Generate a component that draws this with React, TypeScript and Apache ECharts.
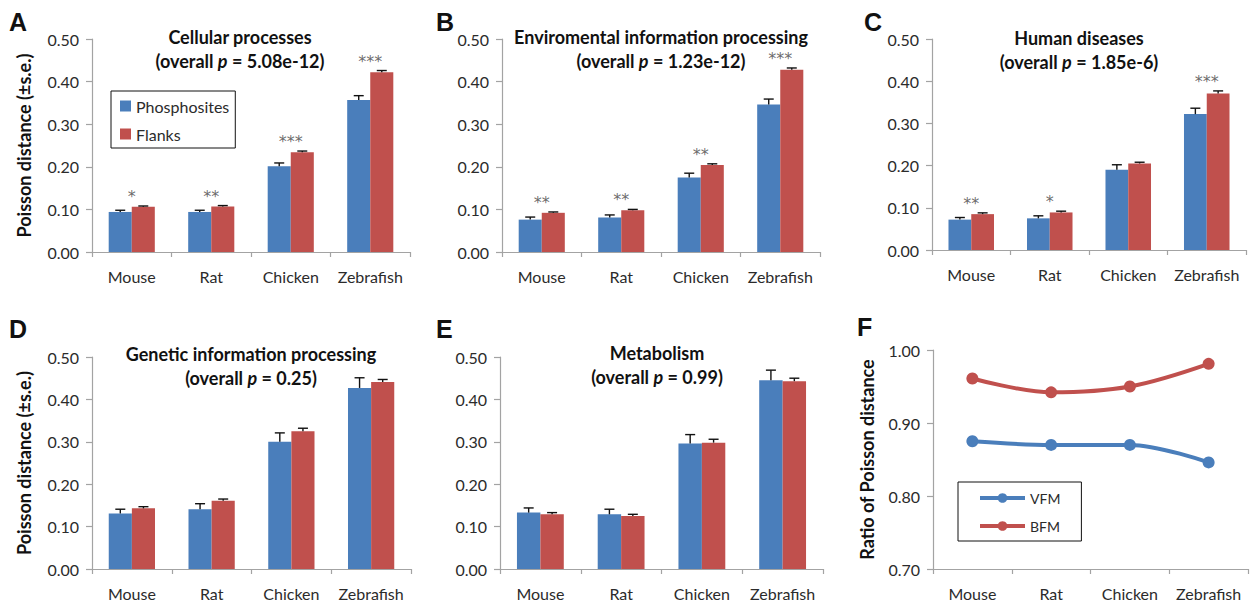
import React, { useEffect, useRef } from 'react';
import * as echarts from 'echarts';

// ---------- data ----------
const categories = ['Mouse', 'Rat', 'Chicken', 'Zebrafish'];

const panelTitles = [
  'Cellular processes',
  'Enviromental information processing',
  'Human diseases',
  'Genetic information processing',
  'Metabolism',
];
const overallP = ['5.08e-12', '1.23e-12', '1.85e-6', '0.25', '0.99'];

// Cellular processes
const cellPhospho = [0.094, 0.094, 0.201, 0.357];
const cellPhosphoSE = [0.004, 0.004, 0.008, 0.01];
const cellFlanks = [0.106, 0.107, 0.234, 0.422];
const cellFlanksSE = [0.002, 0.002, 0.003, 0.004];
const cellStars = ['*', '**', '***', '***'];

// Enviromental information processing
const envPhospho = [0.076, 0.081, 0.175, 0.346];
const envPhosphoSE = [0.006, 0.006, 0.01, 0.013];
const envFlanks = [0.092, 0.098, 0.204, 0.428];
const envFlanksSE = [0.002, 0.002, 0.003, 0.004];
const envStars = ['**', '**', '**', '***'];

// Human diseases
const humPhospho = [0.072, 0.075, 0.19, 0.322];
const humPhosphoSE = [0.005, 0.006, 0.012, 0.014];
const humFlanks = [0.085, 0.089, 0.205, 0.371];
const humFlanksSE = [0.003, 0.003, 0.003, 0.006];
const humStars = ['**', '*', '', '***'];

// Genetic information processing
const genPhospho = [0.131, 0.141, 0.3, 0.427];
const genPhosphoSE = [0.01, 0.013, 0.021, 0.024];
const genFlanks = [0.143, 0.161, 0.325, 0.441];
const genFlanksSE = [0.004, 0.004, 0.007, 0.006];
const genStars = ['', '', '', ''];

// Metabolism
const metPhospho = [0.133, 0.129, 0.296, 0.445];
const metPhosphoSE = [0.011, 0.012, 0.021, 0.024];
const metFlanks = [0.129, 0.125, 0.298, 0.443];
const metFlanksSE = [0.004, 0.004, 0.008, 0.007];
const metStars = ['', '', '', ''];

// Ratio panel
const vfmRatio = [0.875, 0.87, 0.87, 0.846];
const bfmRatio = [0.961, 0.942, 0.95, 0.981];

const barTicks = { min: 0, max: 0.5, interval: 0.1 };
const ratioTicks = { min: 0.7, max: 1.0, interval: 0.1 };

// ---------- style / layout ----------
const BLUE = '#4A7EBB';
const RED = '#C0504D';
const AXIS = '#A3A3A3';
const TEXT = '#2b2b2b';
const STAR = '#444444';
const FONT = 'Lato';
const GAP = 0.42;

const grids = [
  { left: 92, top: 39, width: 318, height: 213 },
  { left: 502, top: 39, width: 318, height: 213 },
  { left: 932, top: 39, width: 314, height: 211 },
  { left: 92, top: 357, width: 319, height: 212 },
  { left: 500, top: 357, width: 323, height: 212 },
  { left: 933, top: 350, width: 315, height: 219 },
];
const titlePos = [
  { x: 240, y: 25 },
  { x: 661, y: 25 },
  { x: 1079, y: 26 },
  { x: 251, y: 342 },
  { x: 657, y: 341 },
];
const letters = [
  { t: 'A', x: 9, y: 9 },
  { t: 'B', x: 436, y: 9 },
  { t: 'C', x: 864, y: 9 },
  { t: 'D', x: 9, y: 316 },
  { t: 'E', x: 436, y: 316 },
  { t: 'F', x: 857, y: 314 },
];

const barPanels = [
  { p: cellPhospho, pse: cellPhosphoSE, f: cellFlanks, fse: cellFlanksSE, stars: cellStars },
  { p: envPhospho, pse: envPhosphoSE, f: envFlanks, fse: envFlanksSE, stars: envStars },
  { p: humPhospho, pse: humPhosphoSE, f: humFlanks, fse: humFlanksSE, stars: humStars },
  { p: genPhospho, pse: genPhosphoSE, f: genFlanks, fse: genFlanksSE, stars: genStars },
  { p: metPhospho, pse: metPhosphoSE, f: metFlanks, fse: metFlanksSE, stars: metStars },
];

function errRender(sign: number) {
  return (params: any, api: any) => {
    const i = api.value(0);
    const v = api.value(1);
    const top = api.value(2);
    const band = api.size([1, 0])[0];
    const bw = (band * (1 - GAP)) / 2;
    const base = api.coord([i, v]);
    const tp = api.coord([i, top]);
    const x = base[0] + (sign * bw) / 2;
    const cap = 5;
    const style = { stroke: '#111', lineWidth: 1.4 };
    return {
      type: 'group',
      children: [
        { type: 'line', shape: { x1: x, y1: base[1], x2: x, y2: tp[1] }, style },
        { type: 'line', shape: { x1: x - cap, y1: tp[1], x2: x + cap, y2: tp[1] }, style },
      ],
    };
  };
}

function buildOption() {
  const xAxis: any[] = [];
  const yAxis: any[] = [];
  const series: any[] = [];
  const title: any[] = [];

  grids.forEach((g, k) => {
    xAxis.push({
      type: 'category',
      gridIndex: k,
      data: categories,
      axisLine: { lineStyle: { color: AXIS, width: 1.2 } },
      axisTick: { show: true, length: 5, lineStyle: { color: AXIS, width: 1.2 } },
      axisLabel: { fontFamily: FONT, fontSize: 16, color: TEXT, margin: 16, interval: 0 },
      splitLine: { show: false },
    });
    const isRatio = k === 5;
    const ticks = isRatio ? ratioTicks : barTicks;
    const showName = k === 0 || k === 3 || k === 5;
    yAxis.push({
      type: 'value',
      gridIndex: k,
      min: ticks.min,
      max: ticks.max,
      interval: ticks.interval,
      axisLine: { show: true, lineStyle: { color: AXIS, width: 1.2 } },
      axisTick: { show: true, length: 6, lineStyle: { color: AXIS, width: 1.2 } },
      splitLine: { show: false },
      axisLabel: {
        fontFamily: FONT,
        fontSize: 16,
        color: TEXT,
        margin: 13,
        formatter: (v: number) => v.toFixed(2),
      },
      name: showName ? (isRatio ? 'Ratio of Poisson distance' : 'Poisson distance (±s.e.)') : '',
      nameLocation: 'middle',
      nameGap: isRatio ? 57 : 59,
      nameTextStyle: { fontFamily: FONT, fontSize: 18, fontWeight: 'bold', color: '#111' },
    });
  });

  barPanels.forEach((bp, k) => {
    series.push({
      type: 'bar',
      name: 'Phosphosites',
      xAxisIndex: k,
      yAxisIndex: k,
      data: bp.p,
      barGap: '0%',
      barCategoryGap: GAP * 100 + '%',
      itemStyle: { color: BLUE },
      z: 2,
    });
    series.push({
      type: 'bar',
      name: 'Flanks',
      xAxisIndex: k,
      yAxisIndex: k,
      data: bp.f,
      barGap: '0%',
      barCategoryGap: GAP * 100 + '%',
      itemStyle: { color: RED },
      z: 2,
    });
    series.push({
      type: 'custom',
      xAxisIndex: k,
      yAxisIndex: k,
      data: bp.p.map((v, i) => [i, v, v + bp.pse[i]]),
      renderItem: errRender(-1),
      z: 3,
      silent: true,
    });
    series.push({
      type: 'custom',
      xAxisIndex: k,
      yAxisIndex: k,
      data: bp.f.map((v, i) => [i, v, v + bp.fse[i]]),
      renderItem: errRender(1),
      z: 3,
      silent: true,
    });
    const starData = categories
      .map((c, i) => ({
        value: [i, Math.max(bp.p[i] + bp.pse[i], bp.f[i] + bp.fse[i])],
        label: { formatter: bp.stars[i], color: STAR },
        s: bp.stars[i],
      }))
      .filter((d) => d.s !== '')
      .map(({ value, label }) => ({ value, label }));
    if (starData.length) {
      series.push({
        type: 'scatter',
        xAxisIndex: k,
        yAxisIndex: k,
        data: starData,
        symbolSize: 1,
        itemStyle: { color: 'rgba(0,0,0,0)' },
        silent: true,
        label: {
          show: true,
          position: 'top',
          distance: 1,
          fontFamily: 'DejaVu Sans',
          fontSize: 16,
          color: STAR,
        },
        z: 4,
      });
    }
    title.push({
      text: `${panelTitles[k]}\n(overall {i|p} = ${overallP[k]})`,
      left: titlePos[k].x,
      top: titlePos[k].y,
      textAlign: 'center',
      padding: 0,
      textStyle: {
        fontFamily: FONT,
        fontSize: 18,
        fontWeight: 'bold',
        color: '#111',
        lineHeight: 24,
        rich: {
          i: { fontFamily: FONT, fontSize: 18, fontWeight: 'bold', fontStyle: 'italic', color: '#111', lineHeight: 24 },
        },
      },
    });
  });

  series.push({
    type: 'line',
    name: 'VFM',
    xAxisIndex: 5,
    yAxisIndex: 5,
    data: vfmRatio,
    smooth: 0.35,
    symbol: 'circle',
    symbolSize: 12,
    lineStyle: { color: BLUE, width: 4 },
    itemStyle: { color: BLUE },
  });
  series.push({
    type: 'line',
    name: 'BFM',
    xAxisIndex: 5,
    yAxisIndex: 5,
    data: bfmRatio,
    smooth: 0.35,
    symbol: 'circle',
    symbolSize: 12,
    lineStyle: { color: RED, width: 4 },
    itemStyle: { color: RED },
  });

  return {
    animation: false,
    backgroundColor: '#fff',
    grid: grids.map((g) => ({ ...g, containLabel: false })),
    xAxis,
    yAxis,
    title,
    legend: [
      {
        data: ['Phosphosites', 'Flanks'],
        orient: 'vertical',
        left: 111,
        top: 91,
        padding: [7, 6, 6, 9],
        itemGap: 12,
        itemWidth: 11,
        itemHeight: 11,
        icon: 'rect',
        borderColor: '#111',
        borderWidth: 1,
        selectedMode: false,
        textStyle: { fontFamily: FONT, fontSize: 16, color: TEXT },
      },
      {
        data: ['VFM', 'BFM'],
        orient: 'vertical',
        left: 958,
        top: 482,
        padding: [9, 21, 8, 20],
        itemGap: 14,
        itemWidth: 45,
        itemHeight: 12,
        lineStyle: { width: 4 },
        borderColor: '#111',
        borderWidth: 1,
        selectedMode: false,
        textStyle: { fontFamily: FONT, fontSize: 14, color: TEXT },
      },
    ],
    graphic: letters.map((l) => ({
      type: 'text',
      left: l.x,
      top: l.y,
      style: {
        text: l.t,
        fontFamily: 'Liberation Sans',
        fontSize: 25,
        fontWeight: 'bold',
        fill: '#111',
      },
    })),
    series,
  };
}

export default function App() {
  const ref = useRef<HTMLDivElement>(null);
  useEffect(() => {
    if (!ref.current) return;
    const chart = echarts.init(ref.current, null, { renderer: 'svg' });
    chart.setOption(buildOption() as any);
    return () => chart.dispose();
  }, []);
  return (
    <div
      ref={ref}
      style={{ position: 'absolute', left: 0, top: 0, width: 1250, height: 604, background: '#fff' }}
    />
  );
}
